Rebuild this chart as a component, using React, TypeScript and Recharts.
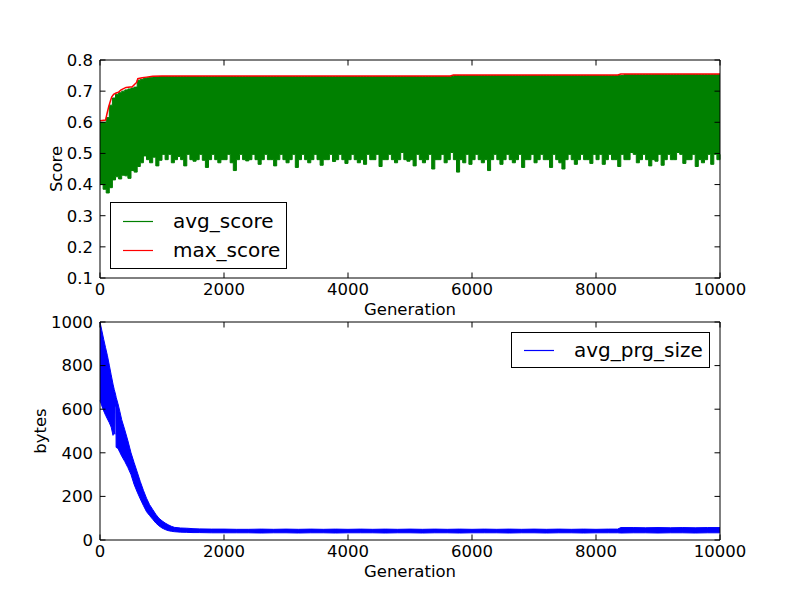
import React from 'react';
import { ComposedChart, Area, Line, XAxis, YAxis, Legend, ReferenceLine } from 'recharts';

const FONT = 'DejaVu Sans, sans-serif';

// top panel: avg_score band (low / high of the noisy line), sampled every 50 generations
const scoreGen = [
  0, 50, 100, 150, 200, 250, 300, 350, 400, 450, 500, 550, 600, 650, 700, 750, 800, 850, 900, 950,
  1000, 1050, 1100, 1150, 1200, 1250, 1300, 1350, 1400, 1450, 1500, 1550, 1600, 1650, 1700, 1750, 1800, 1850, 1900, 1950,
  2000, 2050, 2100, 2150, 2200, 2250, 2300, 2350, 2400, 2450, 2500, 2550, 2600, 2650, 2700, 2750, 2800, 2850, 2900, 2950,
  3000, 3050, 3100, 3150, 3200, 3250, 3300, 3350, 3400, 3450, 3500, 3550, 3600, 3650, 3700, 3750, 3800, 3850, 3900, 3950,
  4000, 4050, 4100, 4150, 4200, 4250, 4300, 4350, 4400, 4450, 4500, 4550, 4600, 4650, 4700, 4750, 4800, 4850, 4900, 4950,
  5000, 5050, 5100, 5150, 5200, 5250, 5300, 5350, 5400, 5450, 5500, 5550, 5600, 5650, 5700, 5750, 5800, 5850, 5900, 5950,
  6000, 6050, 6100, 6150, 6200, 6250, 6300, 6350, 6400, 6450, 6500, 6550, 6600, 6650, 6700, 6750, 6800, 6850, 6900, 6950,
  7000, 7050, 7100, 7150, 7200, 7250, 7300, 7350, 7400, 7450, 7500, 7550, 7600, 7650, 7700, 7750, 7800, 7850, 7900, 7950,
  8000, 8050, 8100, 8150, 8200, 8250, 8300, 8350, 8400, 8450, 8500, 8550, 8600, 8650, 8700, 8750, 8800, 8850, 8900, 8950,
  9000, 9050, 9100, 9150, 9200, 9250, 9300, 9350, 9400, 9450, 9500, 9550, 9600, 9650, 9700, 9750, 9800, 9850, 9900, 9950,
  10000,
];

const avgLow = [
  0.400, 0.385, 0.373, 0.390, 0.415, 0.425, 0.418, 0.430, 0.428, 0.420, 0.445, 0.440, 0.458, 0.470, 0.492, 0.480, 0.470, 0.488, 0.460, 0.478,
  0.497, 0.480, 0.497, 0.470, 0.480, 0.490, 0.480, 0.460, 0.497, 0.480, 0.475, 0.480, 0.497, 0.478, 0.455, 0.480, 0.497, 0.480, 0.470, 0.480,
  0.480, 0.497, 0.470, 0.445, 0.480, 0.497, 0.480, 0.476, 0.480, 0.497, 0.480, 0.465, 0.480, 0.497, 0.480, 0.480, 0.460, 0.480, 0.497, 0.480,
  0.470, 0.480, 0.497, 0.455, 0.480, 0.497, 0.480, 0.470, 0.480, 0.497, 0.480, 0.462, 0.480, 0.480, 0.497, 0.474, 0.480, 0.497, 0.480, 0.468,
  0.480, 0.497, 0.480, 0.470, 0.480, 0.465, 0.497, 0.480, 0.480, 0.497, 0.458, 0.480, 0.480, 0.497, 0.480, 0.470, 0.480, 0.503, 0.480, 0.475,
  0.480, 0.460, 0.497, 0.480, 0.470, 0.480, 0.497, 0.450, 0.480, 0.480, 0.497, 0.470, 0.480, 0.503, 0.480, 0.440, 0.480, 0.470, 0.497, 0.465,
  0.480, 0.497, 0.480, 0.470, 0.480, 0.445, 0.480, 0.497, 0.480, 0.465, 0.480, 0.497, 0.480, 0.470, 0.480, 0.497, 0.455, 0.480, 0.480, 0.497,
  0.470, 0.480, 0.497, 0.480, 0.480, 0.455, 0.497, 0.480, 0.470, 0.450, 0.480, 0.497, 0.480, 0.465, 0.480, 0.497, 0.480, 0.480, 0.468, 0.497,
  0.480, 0.497, 0.465, 0.480, 0.497, 0.480, 0.480, 0.458, 0.497, 0.480, 0.480, 0.503, 0.497, 0.470, 0.480, 0.497, 0.480, 0.460, 0.480, 0.475,
  0.497, 0.462, 0.480, 0.497, 0.480, 0.480, 0.503, 0.497, 0.468, 0.480, 0.480, 0.497, 0.458, 0.480, 0.470, 0.480, 0.497, 0.465, 0.497, 0.480,
  0.497,
];

const avgHigh = [
  0.600, 0.600, 0.615, 0.655, 0.678, 0.690, 0.695, 0.700, 0.704, 0.707, 0.710, 0.713, 0.735, 0.738, 0.741, 0.743, 0.745, 0.746, 0.746, 0.747,
  0.747, 0.747, 0.747, 0.747, 0.747, 0.747, 0.747, 0.747, 0.747, 0.747, 0.747, 0.747, 0.747, 0.747, 0.747, 0.747, 0.747, 0.747, 0.747, 0.747,
  0.747, 0.747, 0.747, 0.747, 0.747, 0.747, 0.747, 0.747, 0.747, 0.747, 0.747, 0.747, 0.747, 0.747, 0.747, 0.747, 0.747, 0.747, 0.747, 0.747,
  0.747, 0.747, 0.747, 0.747, 0.747, 0.747, 0.747, 0.747, 0.747, 0.747, 0.747, 0.747, 0.747, 0.747, 0.747, 0.747, 0.747, 0.747, 0.747, 0.747,
  0.747, 0.747, 0.747, 0.747, 0.747, 0.747, 0.747, 0.747, 0.747, 0.747, 0.747, 0.747, 0.747, 0.747, 0.747, 0.747, 0.747, 0.747, 0.747, 0.747,
  0.747, 0.747, 0.747, 0.747, 0.747, 0.747, 0.747, 0.747, 0.747, 0.747, 0.747, 0.747, 0.747, 0.747, 0.750, 0.750, 0.750, 0.750, 0.750, 0.750,
  0.750, 0.750, 0.750, 0.750, 0.750, 0.750, 0.750, 0.750, 0.750, 0.750, 0.750, 0.750, 0.750, 0.750, 0.750, 0.750, 0.750, 0.750, 0.750, 0.750,
  0.750, 0.750, 0.750, 0.750, 0.750, 0.750, 0.750, 0.750, 0.750, 0.750, 0.750, 0.750, 0.750, 0.750, 0.750, 0.750, 0.750, 0.750, 0.750, 0.750,
  0.750, 0.750, 0.750, 0.750, 0.750, 0.750, 0.750, 0.750, 0.750, 0.753, 0.753, 0.753, 0.753, 0.753, 0.753, 0.753, 0.753, 0.753, 0.753, 0.753,
  0.753, 0.753, 0.753, 0.753, 0.753, 0.753, 0.753, 0.753, 0.753, 0.753, 0.753, 0.753, 0.753, 0.753, 0.753, 0.753, 0.753, 0.753, 0.753, 0.753,
  0.753,
];

// max_score breakpoints
const maxGen = [0, 90, 110, 140, 170, 190, 220, 260, 300, 340, 380, 420, 520, 560, 590, 610, 680, 750, 850, 1000, 5650, 5700, 8350, 8400, 10000];
const maxScore = [0.605, 0.607, 0.625, 0.65, 0.67, 0.682, 0.69, 0.694, 0.697, 0.704, 0.708, 0.712, 0.714, 0.722, 0.728, 0.74, 0.743, 0.745, 0.748, 0.749, 0.749, 0.752, 0.752, 0.755, 0.755];

// bottom panel: avg_prg_size band
const prgGen = [
  0, 30, 60, 90, 120, 150, 180, 210, 230, 240,
  242, 256, 260, 290, 320, 350, 400, 450, 500, 550,
  600, 650, 700, 750, 800, 850, 900, 950, 1000, 1050,
  1100, 1150, 1200, 1300, 1400, 1500, 1600, 1800, 2000, 2200,
  2400, 2600, 2800, 3000, 3200, 3400, 3600, 3800, 4000, 4200,
  4400, 4600, 4800, 5000, 5200, 5400, 5600, 5800, 6000, 6200,
  6400, 6600, 6800, 7000, 7200, 7400, 7600, 7800, 8000, 8200,
  8350, 8400, 8600, 8800, 9000, 9200, 9400, 9600, 9800, 10000,
];
const prgLow = [
  640, 615, 592, 572, 555, 538, 518, 480, 500, 485,
  612, 612, 425, 420, 402, 385, 360, 332, 300, 255,
  220, 188, 158, 130, 112, 95, 78, 65, 55, 48,
  43, 40, 38, 36, 35, 34, 34, 33, 33, 33,
  33, 32, 33, 33, 32, 33, 33, 32, 33, 33,
  33, 32, 33, 33, 32, 33, 33, 32, 33, 33,
  33, 32, 33, 33, 32, 33, 33, 32, 33, 33,
  33, 32, 33, 33, 32, 33, 33, 32, 33, 33,
];
const prgHigh = [
  1000, 960, 920, 882, 845, 802, 758, 715, 690, 680,
  678, 662, 655, 625, 590, 552, 505, 455, 400, 355,
  312, 268, 228, 192, 162, 140, 118, 100, 88, 78,
  70, 63, 58, 55, 54, 52, 51, 50, 50, 49,
  49, 50, 49, 50, 49, 50, 49, 50, 49, 50,
  49, 50, 49, 50, 49, 50, 49, 50, 49, 50,
  49, 50, 49, 50, 49, 50, 49, 50, 49, 50,
  50, 57, 57, 56, 57, 56, 57, 56, 57, 57,
];

const genTicks = [0, 2000, 4000, 6000, 8000, 10000];
const scoreTicks = [0.1, 0.2, 0.3, 0.4, 0.5, 0.6, 0.7, 0.8];
const bytesTicks = [0, 200, 400, 600, 800, 1000];

const scoreRows = scoreGen.map((gen, i) => ({ gen, avg: [avgLow[i], avgHigh[i]] }));
const maxRows = maxGen.map((gen, i) => ({ gen, max: maxScore[i] }));
const prgRows = prgGen.map((gen, i) => ({ gen, prg: [prgLow[i], prgHigh[i]] }));

const X_PAD = 5;
const Y_PAD = 7;
const TICK = 5.5;
const FS = 16.5;
const colorOf: Record<string, string> = { avg_score: '#008000', max_score: '#ff0000', avg_prg_size: '#0000ff' };

// matplotlib style: ticks point into the plot, mirrored on the top edge
const XTick = (props: any) => {
  const { x, y, payload, frameTop } = props;
  return (
    <g>
      <line x1={x} x2={x} y1={y - X_PAD} y2={y - X_PAD - TICK} stroke="#000" />
      <line x1={x} x2={x} y1={frameTop} y2={frameTop + TICK} stroke="#000" />
      <text x={x} y={y} dy="0.71em" textAnchor="middle" fontFamily={FONT} fontSize={FS} fill="#000">
        {payload.value}
      </text>
    </g>
  );
};

// left ticks with labels, mirrored on the right edge
const YTick = (props: any) => {
  const { x, y, payload, frameRight, digits } = props;
  const v = Number(payload.value);
  return (
    <g>
      <line x1={x + Y_PAD} x2={x + Y_PAD + TICK} y1={y} y2={y} stroke="#000" />
      <line x1={frameRight} x2={frameRight - TICK} y1={y} y2={y} stroke="#000" />
      <text x={x} y={y} dy="0.355em" textAnchor="end" fontFamily={FONT} fontSize={FS} fill="#000">
        {digits ? v.toFixed(digits) : String(v)}
      </text>
    </g>
  );
};

const AxisTitle = (props: any) => {
  const { viewBox, text, shiftX = 0, shiftY = 0, rotate = 0 } = props;
  if (!viewBox) return null;
  const cx = viewBox.x + viewBox.width / 2 + shiftX;
  const cy = viewBox.y + viewBox.height / 2 + shiftY;
  return (
    <text
      x={cx}
      y={cy}
      transform={rotate ? `rotate(${rotate} ${cx} ${cy})` : undefined}
      textAnchor="middle"
      dominantBaseline="central"
      fontFamily={FONT}
      fontSize={FS}
      fill="#000"
    >
      {text}
    </text>
  );
};

const LegendBox = (props: any) => {
  const { payload = [], boxW, boxH } = props;
  return (
    <div
      style={{
        width: boxW,
        height: boxH,
        boxSizing: 'border-box',
        border: '1px solid #000',
        background: '#fff',
        paddingTop: (boxH - 2 - payload.length * 29) / 2,
        fontFamily: FONT,
        fontSize: 20,
        color: '#000',
      }}
    >
      {payload.map((e: any) => (
        <div key={e.value} style={{ display: 'flex', alignItems: 'center', height: 29 }}>
          <svg width={42} height={29} style={{ display: 'block', marginLeft: 6 }}>
            <line x1={6} x2={36} y1={14.5} y2={14.5} stroke={colorOf[e.value] || e.color} strokeWidth={1.2} />
          </svg>
          <span style={{ marginLeft: 14, lineHeight: '29px' }}>{e.value}</span>
        </div>
      ))}
    </div>
  );
};

const frameAxis = { stroke: '#000', strokeWidth: 1 };

export default function App() {
  return (
    <div style={{ position: 'absolute', left: 0, top: 0, width: 800, height: 600, background: '#fff', fontFamily: FONT }}>
      <div style={{ position: 'absolute', left: 0, top: 0 }}>
        <ComposedChart width={800} height={320} data={scoreRows} margin={{ top: 60, right: 80, bottom: 12, left: 0 }}>
          <Area
            name="avg_score"
            dataKey="avg"
            type="stepAfter"
            stroke="#008000"
            fill="#008000"
            fillOpacity={1}
            strokeWidth={1}
            legendType="line"
            dot={false}
            activeDot={false}
            isAnimationActive={false}
          />
          <Line
            name="max_score"
            data={maxRows}
            dataKey="max"
            type="linear"
            stroke="#ff0000"
            strokeWidth={1.5}
            dot={false}
            activeDot={false}
            legendType="line"
            isAnimationActive={false}
          />
          <ReferenceLine y={0.8} stroke="#000" strokeWidth={1} />
          <ReferenceLine x={10000} stroke="#000" strokeWidth={1} />
          <XAxis
            dataKey="gen"
            type="number"
            domain={[0, 10000]}
            ticks={genTicks}
            interval={0}
            height={30}
            tickSize={0}
            tickMargin={X_PAD}
            tickLine={false}
            axisLine={frameAxis}
            tick={<XTick frameTop={60} />}
            label={<AxisTitle text="Generation" shiftY={16} />}
          />
          <YAxis
            type="number"
            domain={[0.1, 0.8]}
            ticks={scoreTicks}
            interval={0}
            width={100}
            tickSize={0}
            tickMargin={Y_PAD}
            tickLine={false}
            axisLine={frameAxis}
            tick={<YTick frameRight={720} digits={1} />}
            label={<AxisTitle text="Score" shiftX={6} rotate={-90} />}
          />
          <Legend
            layout="vertical"
            align="center"
            verticalAlign="middle"
            wrapperStyle={{ left: 110, top: 202, width: 177 }}
            content={<LegendBox boxW={177} boxH={67} />}
          />
        </ComposedChart>
      </div>
      <div style={{ position: 'absolute', left: 0, top: 300 }}>
        <ComposedChart width={800} height={300} data={prgRows} margin={{ top: 22, right: 80, bottom: 30, left: 0 }}>
          <Area
            name="avg_prg_size"
            dataKey="prg"
            type="linear"
            stroke="#0000ff"
            fill="#0000ff"
            fillOpacity={1}
            strokeWidth={1}
            legendType="line"
            dot={false}
            activeDot={false}
            isAnimationActive={false}
          />
          <ReferenceLine y={1000} stroke="#000" strokeWidth={1} />
          <ReferenceLine x={10000} stroke="#000" strokeWidth={1} />
          <XAxis
            dataKey="gen"
            type="number"
            domain={[0, 10000]}
            ticks={genTicks}
            interval={0}
            height={30}
            tickSize={0}
            tickMargin={X_PAD}
            tickLine={false}
            axisLine={frameAxis}
            tick={<XTick frameTop={22} />}
            label={<AxisTitle text="Generation" shiftY={16} />}
          />
          <YAxis
            type="number"
            domain={[0, 1000]}
            ticks={bytesTicks}
            interval={0}
            width={100}
            tickSize={0}
            tickMargin={Y_PAD}
            tickLine={false}
            axisLine={frameAxis}
            tick={<YTick frameRight={720} digits={0} />}
            label={<AxisTitle text="bytes" shiftX={-10} rotate={-90} />}
          />
          <Legend
            layout="vertical"
            align="center"
            verticalAlign="middle"
            wrapperStyle={{ left: 511, top: 32, width: 199 }}
            content={<LegendBox boxW={199} boxH={36} />}
          />
        </ComposedChart>
      </div>
    </div>
  );
}
